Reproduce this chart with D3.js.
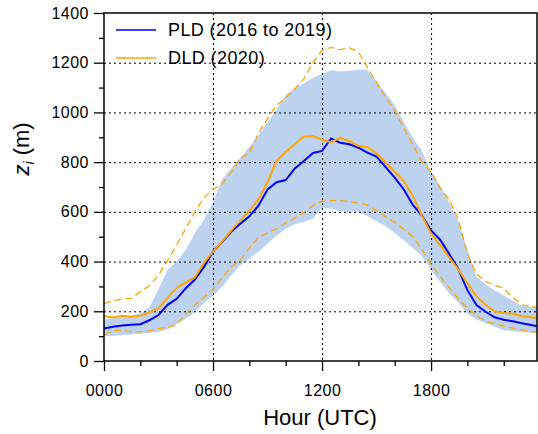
<!DOCTYPE html>
<html>
<head>
<meta charset="utf-8">
<script src="https://cdn.jsdelivr.net/npm/d3@7"></script>
<style>
  body { margin: 0; background: #fff; }
  svg { display: block; font-family: "Liberation Sans", Arial, sans-serif; }
</style>
</head>
<body>
<svg id="chart" width="538" height="434"></svg>
<script>
// hours (UTC), half-hourly
const hours = [0,0.5,1,1.5,2,2.5,3,3.5,4,4.5,5,5.5,6,6.5,7,7.5,8,8.5,9,9.5,10,10.5,11,11.5,
  12,12.5,13,13.5,14,14.5,15,15.5,16,16.5,17,17.5,18,18.5,19,19.5,20,20.5,21,21.5,22,22.5,23,23.5,23.83];

// PLD mean (2016 to 2019)
const pldMean = [131,138,143,146,148,164,185,226,250,293,328,378,440,478,520,552,582,625,690,719,728,775,805,837,
  845,895,878,872,858,838,822,780,738,690,628,585,525,488,430,370,285,225,198,176,166,160,152,145,140];
// PLD spread (shaded)
const pldLow = [100,102,104,107,110,113,117,128,148,170,196,233,262,298,345,385,410,440,472,505,532,550,560,572,
  618,612,602,600,600,582,562,542,515,486,455,422,365,318,272,235,190,168,152,138,124,120,117,114,113];
const pldHigh = [167,172,178,183,192,215,290,367,399,448,514,568,640,732,775,818,862,908,960,1010,1070,1098,1116,1140,
  1155,1170,1165,1168,1172,1172,1125,1078,1028,960,898,845,760,705,640,562,450,339,308,285,264,242,222,217,215];

// DLD (2020)
const dldMean = [180,175,182,178,182,195,212,255,295,316,336,395,440,480,525,565,605,650,720,805,842,872,903,905,
  890,880,898,885,865,860,836,798,762,724,663,584,513,466,417,368,312,260,226,200,193,190,180,176,173];
const dldLow = [105,122,124,117,117,122,130,135,148,188,225,255,288,335,378,405,455,498,515,532,555,575,598,625,
  643,645,645,641,636,628,605,580,558,530,500,448,390,340,295,250,212,182,160,150,140,132,125,118,116];
const dldHigh = [231,242,250,252,278,303,345,405,466,533,600,657,690,712,760,815,835,916,975,1030,1058,1095,1135,1200,
  1250,1262,1253,1260,1243,1180,1120,1060,1008,935,870,800,762,695,650,570,430,350,320,305,292,255,226,219,216];

const xTicks = [0, 6, 12, 18];
const xTickLabels = ["0000", "0600", "1200", "1800"];
const yTicks = [0, 200, 400, 600, 800, 1000, 1200, 1400];
const legendNames = ["PLD (2016 to 2019)", "DLD (2020)"];

const svg = d3.select("#chart");
const plotL = 104, plotT = 13, plotR = 537, plotB = 361;

const x = d3.scaleLinear().domain([0, 23.83]).range([plotL, plotR]);
const y = d3.scaleLinear().domain([0, 1400]).range([plotB, plotT]);

const blue = "#0000ff", orange = "#ffa500", band = "#bcd2ee";

// shaded band
svg.append("path")
  .datum(hours.map((h, i) => [h, pldLow[i], pldHigh[i]]))
  .attr("fill", band)
  .attr("d", d3.area().x(d => x(d[0])).y0(d => y(d[1])).y1(d => y(d[2])));

// grid
const grid = svg.append("g").attr("stroke", "#000").attr("stroke-width", 1).attr("stroke-dasharray", "2,3");
yTicks.slice(1, -1).forEach(v => {
  grid.append("line").attr("x1", plotL).attr("x2", plotR).attr("y1", y(v) + 0.5).attr("y2", y(v) + 0.5);
});
xTicks.slice(1).forEach(h => {
  grid.append("line").attr("x1", x(h) + 0.5).attr("x2", x(h) + 0.5).attr("y1", plotT).attr("y2", plotB);
});

const line = vals => d3.line().x((d, i) => x(hours[i])).y(d => y(d))(vals);

// dashed DLD spread
[dldLow, dldHigh].forEach(vals => {
  svg.append("path").attr("d", line(vals))
    .attr("fill", "none").attr("stroke", orange).attr("stroke-width", 1.3)
    .attr("stroke-dasharray", "7,4");
});

svg.append("path").attr("d", line(pldMean))
  .attr("fill", "none").attr("stroke", blue).attr("stroke-width", 2);
svg.append("path").attr("d", line(dldMean))
  .attr("fill", "none").attr("stroke", orange).attr("stroke-width", 2);

// axes
svg.append("g").attr("transform", `translate(${plotL},0)`)
  .call(d3.axisLeft(y).tickValues(yTicks).tickSize(10).tickPadding(5).tickFormat(d3.format("d")));
svg.append("g").attr("transform", `translate(${plotL},0)`)
  .call(d3.axisLeft(y).tickValues(d3.range(100, 1400, 200)).tickSize(5).tickFormat(""));
svg.append("g").attr("transform", `translate(0,${plotB})`)
  .call(d3.axisBottom(x).tickValues(xTicks).tickSize(10).tickPadding(14)
    .tickFormat((d, i) => xTickLabels[i]));
svg.append("g").attr("transform", `translate(0,${plotB})`)
  .call(d3.axisBottom(x).tickValues([2, 4, 8, 10, 14, 16, 20, 22]).tickSize(5).tickFormat(""));

svg.selectAll(".tick line").attr("stroke", "#000").attr("stroke-width", 1.3);
svg.selectAll(".tick text").attr("font-size", 16).attr("fill", "#000")
  .attr("font-family", "Liberation Sans, Arial, sans-serif").attr("letter-spacing", 0.5);
svg.selectAll(".domain").remove();

// frame
svg.append("rect").attr("x", plotL).attr("y", plotT)
  .attr("width", plotR - plotL).attr("height", plotB - plotT)
  .attr("fill", "none").attr("stroke", "#000").attr("stroke-width", 1.5);

// axis titles
svg.append("text").attr("x", 320).attr("y", 425).attr("text-anchor", "middle")
  .attr("font-size", 22).text("Hour (UTC)");
const yl = svg.append("text").attr("transform", "translate(29,149) rotate(-90)")
  .attr("text-anchor", "middle").attr("font-size", 22);
yl.append("tspan").attr("font-style", "italic").text("z");
yl.append("tspan").attr("font-style", "italic").attr("font-size", 14).attr("dy", 5).text("i");
yl.append("tspan").attr("dy", -5).text(" (m)");

// legend
const legend = svg.append("g");
[blue, orange].forEach((c, i) => {
  const ly = 30 + i * 28;
  legend.append("line").attr("x1", 116).attr("x2", 156).attr("y1", ly).attr("y2", ly)
    .attr("stroke", c).attr("stroke-width", 1.6);
  legend.append("text").attr("x", 168).attr("y", ly + 6).attr("font-size", 18)
    .attr("letter-spacing", 0.4).text(legendNames[i]);
});
</script>
</body>
</html>
